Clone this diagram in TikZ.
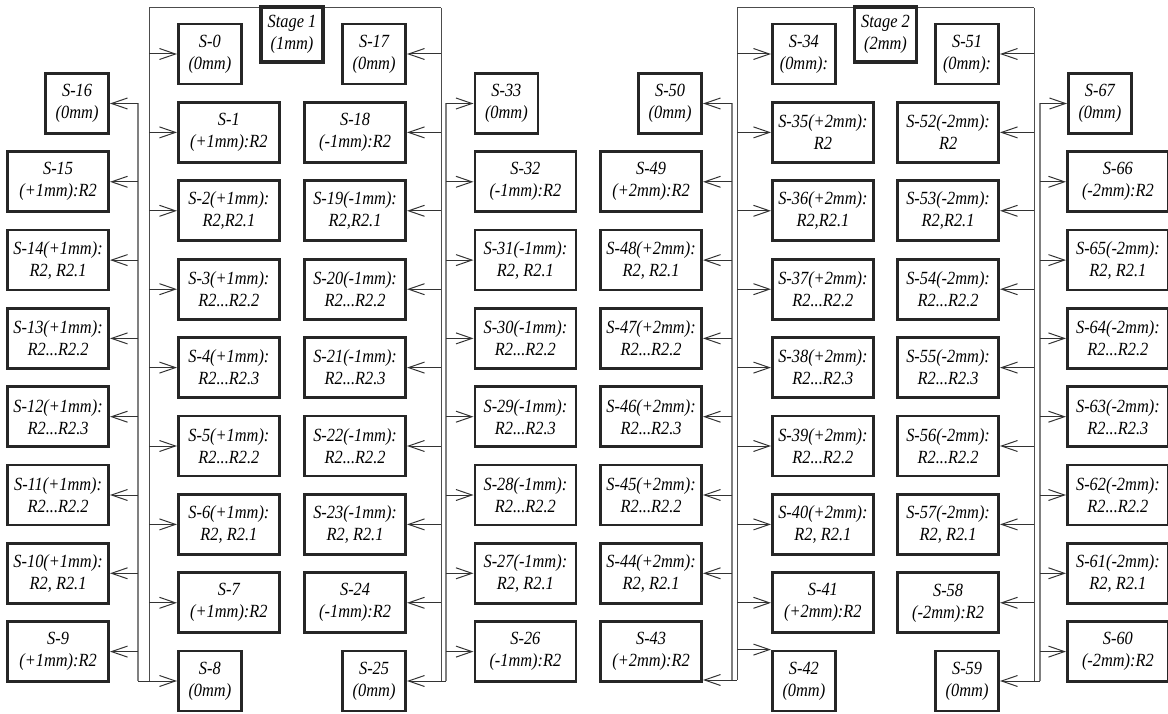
\documentclass[tikz,border=0pt]{standalone}
\usepackage{fontspec}
\setmainfont{Liberation Serif}[FakeStretch=0.88]
\usetikzlibrary{arrows.meta}
\begin{document}
\begin{tikzpicture}[x=1pt,y=-1pt,
  box/.style={draw=black!85,line width=2.8pt,fill=white,inner sep=0pt,minimum height=60pt,align=center,
    font=\fontsize{18.6}{22}\selectfont\itshape},
  wbox/.style={box,minimum width=101pt},
  sbox/.style={box,minimum width=63pt},
  stagebox/.style={box,line width=3.6pt,minimum width=62pt,minimum height=55pt},
  bus/.style={draw=black!70,line width=1pt},
  obus/.style={draw=black!50,line width=1.3pt},
  arr/.style={draw=black!80,line width=1pt,-{Straight Barb[length=16pt,width=11pt,line width=1pt]}}
]
\useasboundingbox (0,0) rectangle (1168,714);
% bus corner coordinates
\coordinate (T1L) at (149,8);
\coordinate (T1R) at (441,8);
\coordinate (O1L) at (138,8);
\coordinate (O1R) at (446,8);
\coordinate (T2L) at (737,8);
\coordinate (T2R) at (1034,8);
\coordinate (O2L) at (732,8);
\coordinate (O2R) at (1040,8);
\draw[bus] (T1L) -- (T1R);
\draw[bus] (T2L) -- (T2R);
% ---------------- Stage 1 ----------------
\node[stagebox] (ST1) at (292,34.5) {Stage 1\\(1mm)};
% inner left
\node[sbox,anchor=west] (S0) at (177,54) {S-0\\(0mm)};
\node[wbox,anchor=west] (S1) at (177,132.4) {S-1\\(+1mm):R2};
\node[wbox,anchor=west] (S2) at (177,210.8) {S-2(+1mm):\\R2,R2.1};
\node[wbox,anchor=west] (S3) at (177,289.2) {S-3(+1mm):\\R2...R2.2};
\node[wbox,anchor=west] (S4) at (177,367.6) {S-4(+1mm):\\R2...R2.3};
\node[wbox,anchor=west] (S5) at (177,446) {S-5(+1mm):\\R2...R2.2};
\node[wbox,anchor=west] (S6) at (177,524.4) {S-6(+1mm):\\R2, R2.1};
\node[wbox,anchor=west] (S7) at (177,602.8) {S-7\\(+1mm):R2};
\node[sbox,anchor=west] (S8) at (177,681) {S-8\\(0mm)};
% outer left
\node[sbox,anchor=east] (S16) at (110,103.5) {S-16\\(0mm)};
\node[wbox,anchor=east] (S15) at (110,181.8) {S-15\\(+1mm):R2};
\node[wbox,anchor=east] (S14) at (110,260.1) {S-14(+1mm):\\R2, R2.1};
\node[wbox,anchor=east] (S13) at (110,338.4) {S-13(+1mm):\\R2...R2.2};
\node[wbox,anchor=east] (S12) at (110,416.7) {S-12(+1mm):\\R2...R2.3};
\node[wbox,anchor=east] (S11) at (110,495) {S-11(+1mm):\\R2...R2.2};
\node[wbox,anchor=east] (S10) at (110,573.3) {S-10(+1mm):\\R2, R2.1};
\node[wbox,anchor=east] (S9) at (110,651.6) {S-9\\(+1mm):R2};
% inner right
\node[sbox,anchor=east] (S17) at (407,54) {S-17\\(0mm)};
\node[wbox,anchor=east] (S18) at (407,132.4) {S-18\\(-1mm):R2};
\node[wbox,anchor=east] (S19) at (407,210.8) {S-19(-1mm):\\R2,R2.1};
\node[wbox,anchor=east] (S20) at (407,289.2) {S-20(-1mm):\\R2...R2.2};
\node[wbox,anchor=east] (S21) at (407,367.6) {S-21(-1mm):\\R2...R2.3};
\node[wbox,anchor=east] (S22) at (407,446) {S-22(-1mm):\\R2...R2.2};
\node[wbox,anchor=east] (S23) at (407,524.4) {S-23(-1mm):\\R2, R2.1};
\node[wbox,anchor=east] (S24) at (407,602.8) {S-24\\(-1mm):R2};
\node[sbox,anchor=east] (S25) at (407,681) {S-25\\(0mm)};
% outer right
\node[sbox,anchor=west] (S33) at (473.5,103.5) {S-33\\(0mm)};
\node[wbox,anchor=west] (S32) at (473.5,181.8) {S-32\\(-1mm):R2};
\node[wbox,anchor=west] (S31) at (473.5,260.1) {S-31(-1mm):\\R2, R2.1};
\node[wbox,anchor=west] (S30) at (473.5,338.4) {S-30(-1mm):\\R2...R2.2};
\node[wbox,anchor=west] (S29) at (473.5,416.7) {S-29(-1mm):\\R2...R2.3};
\node[wbox,anchor=west] (S28) at (473.5,495) {S-28(-1mm):\\R2...R2.2};
\node[wbox,anchor=west] (S27) at (473.5,573.3) {S-27(-1mm):\\R2, R2.1};
\node[wbox,anchor=west] (S26) at (473.5,651.6) {S-26\\(-1mm):R2};
% ---------------- Stage 2 ----------------
\node[stagebox] (ST2) at (885.5,34.5) {Stage 2\\(2mm)};
% inner left
\node[sbox,anchor=west] (S34) at (771,54) {S-34\\(0mm):};
\node[wbox,anchor=west] (S35) at (771,132.4) {S-35(+2mm):\\R2};
\node[wbox,anchor=west] (S36) at (771,210.8) {S-36(+2mm):\\R2,R2.1};
\node[wbox,anchor=west] (S37) at (771,289.2) {S-37(+2mm):\\R2...R2.2};
\node[wbox,anchor=west] (S38) at (771,367.6) {S-38(+2mm):\\R2...R2.3};
\node[wbox,anchor=west] (S39) at (771,446) {S-39(+2mm):\\R2...R2.2};
\node[wbox,anchor=west] (S40) at (771,524.4) {S-40(+2mm):\\R2, R2.1};
\node[wbox,anchor=west] (S41) at (771,602.8) {S-41\\(+2mm):R2};
\node[sbox,anchor=west] (S42) at (771,681) {S-42\\(0mm)};
% outer left
\node[sbox,anchor=east] (S50) at (703,103.5) {S-50\\(0mm)};
\node[wbox,anchor=east] (S49) at (703,181.8) {S-49\\(+2mm):R2};
\node[wbox,anchor=east] (S48) at (703,260.1) {S-48(+2mm):\\R2, R2.1};
\node[wbox,anchor=east] (S47) at (703,338.4) {S-47(+2mm):\\R2...R2.2};
\node[wbox,anchor=east] (S46) at (703,416.7) {S-46(+2mm):\\R2...R2.3};
\node[wbox,anchor=east] (S45) at (703,495) {S-45(+2mm):\\R2...R2.2};
\node[wbox,anchor=east] (S44) at (703,573.3) {S-44(+2mm):\\R2, R2.1};
\node[wbox,anchor=east] (S43) at (703,651.6) {S-43\\(+2mm):R2};
% inner right
\node[sbox,anchor=east] (S51) at (1000,54) {S-51\\(0mm):};
\node[wbox,anchor=east] (S52) at (1000,132.4) {S-52(-2mm):\\R2};
\node[wbox,anchor=east] (S53) at (1000,210.8) {S-53(-2mm):\\R2,R2.1};
\node[wbox,anchor=east] (S54) at (1000,289.2) {S-54(-2mm):\\R2...R2.2};
\node[wbox,anchor=east] (S55) at (1000,367.6) {S-55(-2mm):\\R2...R2.3};
\node[wbox,anchor=east] (S56) at (1000,446) {S-56(-2mm):\\R2...R2.2};
\node[wbox,anchor=east] (S57) at (1000,524.4) {S-57(-2mm):\\R2, R2.1};
\node[wbox,anchor=east] (S58) at (1000,602.8) {S-58\\(-2mm):R2};
\node[sbox,anchor=east] (S59) at (1000,681) {S-59\\(0mm)};
% outer right
\node[sbox,anchor=west] (S67) at (1067,103.5) {S-67\\(0mm)};
\node[wbox,anchor=west] (S66) at (1066,181.8) {S-66\\(-2mm):R2};
\node[wbox,anchor=west] (S65) at (1066,260.1) {S-65(-2mm):\\R2, R2.1};
\node[wbox,anchor=west] (S64) at (1066,338.4) {S-64(-2mm):\\R2...R2.2};
\node[wbox,anchor=west] (S63) at (1066,416.7) {S-63(-2mm):\\R2...R2.3};
\node[wbox,anchor=west] (S62) at (1066,495) {S-62(-2mm):\\R2...R2.2};
\node[wbox,anchor=west] (S61) at (1066,573.3) {S-61(-2mm):\\R2, R2.1};
\node[wbox,anchor=west] (S60) at (1066,651.6) {S-60\\(-2mm):R2};
% ---------------- connectors: Stage 1 ----------------
\draw[bus] (T1L) -- (T1L |- S8.west);
\draw[obus] (O1L |- S16.east) -- (O1L |- S8.west);
\draw[bus] (T1R) -- (T1R |- S25.east);
\draw[obus] (O1R |- S33.west) -- (O1R |- S25.east);
\foreach \i in {0,...,7} \draw[arr] (T1L |- S\i.west) -- (S\i.west);
\draw[arr] (O1L |- S8.west) -- (S8.west);
\foreach \i in {9,...,16} \draw[arr] (O1L |- S\i.east) -- (S\i.east);
\foreach \i in {17,...,24} \draw[arr] (T1R |- S\i.east) -- (S\i.east);
\draw[arr] (O1R |- S25.east) -- (S25.east);
\foreach \i in {26,...,33} \draw[arr] (O1R |- S\i.west) -- (S\i.west);
% ---------------- connectors: Stage 2 ----------------
\coordinate (B2L) at ([yshift=3pt]S43.south east);
\draw[bus] (T2L) -- (T2L |- B2L);
\draw[obus] (O2L |- S50.east) -- (O2L |- B2L);
\draw[bus] (T2R) -- (T2R |- S59.east);
\draw[obus] (O2R |- S67.west) -- (O2R |- S59.east);
\foreach \i in {34,...,41} \draw[arr] (T2L |- S\i.west) -- (S\i.west);
\draw[arr] (T2L |- S42.north west) -- (S42.north west);
\foreach \i in {44,...,50} \draw[arr] (O2L |- S\i.east) -- (S\i.east);
\draw[arr] (T2L |- B2L) -- (B2L);
\foreach \i in {51,...,58} \draw[arr] (T2R |- S\i.east) -- (S\i.east);
\draw[arr] (O2R |- S59.east) -- (S59.east);
\foreach \i in {60,...,67} \draw[arr] (O2R |- S\i.west) -- (S\i.west);
\end{tikzpicture}
\end{document}
